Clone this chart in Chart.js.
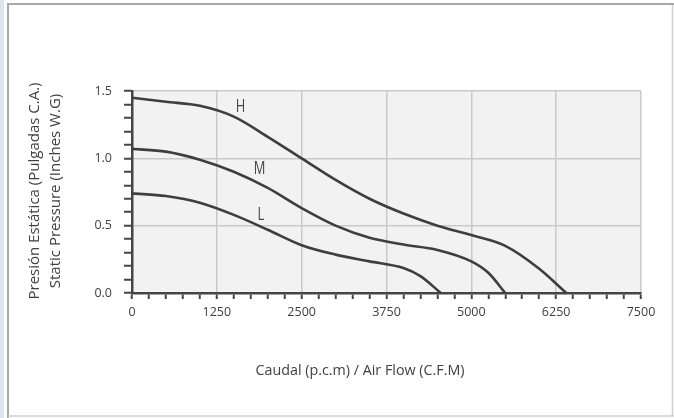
<!DOCTYPE html>
<html>
<head>
<meta charset="utf-8">
<style>
  html, body { margin: 0; padding: 0; background: #fff; }
  #wrap { width: 674px; height: 418px; }
</style>
<script src="https://cdn.jsdelivr.net/npm/chart.js@4.4.0/dist/chart.umd.min.js"></script>
</head>
<body>
<div id="wrap"><canvas id="fanChart" width="674" height="418"></canvas></div>
<script>
// ===========================
// Data
// ===========================
const speedNames = ['H', 'M', 'L'];

const flowH = [0, 500, 1000, 1500, 2000, 2500, 3000, 3500, 4000, 4500, 5000, 5500, 6000, 6400];
const pressH = [1.45, 1.42, 1.39, 1.31, 1.16, 1.00, 0.84, 0.70, 0.59, 0.50, 0.43, 0.35, 0.18, 0];

const flowM = [0, 500, 1000, 1500, 2000, 2500, 3000, 3500, 4000, 4500, 5000, 5250, 5500];
const pressM = [1.07, 1.05, 0.99, 0.90, 0.78, 0.63, 0.50, 0.41, 0.36, 0.32, 0.235, 0.15, 0];

const flowL = [0, 500, 1000, 1500, 2000, 2500, 3000, 3500, 4000, 4250, 4550];
const pressL = [0.74, 0.72, 0.67, 0.58, 0.47, 0.355, 0.285, 0.235, 0.185, 0.125, 0];

// where the H / M / L tags sit, in data units
const tagFlow = [1600, 1880, 1900];
const tagPress = [1.38, 0.92, 0.58];

const xTickLabels = ['0', '1250', '2500', '3750', '5000', '6250', '7500'];
const yTickLabels = ['0.0', '0.5', '1.0', '1.5'];

const xTitle = 'Caudal (p.c.m) / Air Flow (C.F.M)';
const yTitle = ['Presión Estática (Pulgadas C.A.)', 'Static Pressure (Inches W.G)'];

function toPoints(xs, ys) {
    return xs.map((x, i) => ({ x: x, y: ys[i] }));
}

const curveColor = '#3e3e3e';
const axisColor = '#454545';
const textColor = '#404040';
const font = '"Open Sans", "Noto Sans", sans-serif';

// ===========================
// Plugins: frame, plot background, titles, curve tags
// ===========================
const sheetDecor = {
    id: 'sheetDecor',
    beforeDraw(chart) {
        const { ctx, chartArea: a } = chart;
        ctx.save();
        // page frame
        ctx.fillStyle = '#dde7f0';
        ctx.fillRect(0, 0, 4, chart.height);
        ctx.strokeStyle = '#a8a8a8';
        ctx.lineWidth = 2;
        ctx.beginPath();
        ctx.moveTo(8, chart.height);
        ctx.lineTo(8, 4);
        ctx.lineTo(chart.width, 4);
        ctx.stroke();
        ctx.strokeStyle = '#d0d0d0';
        ctx.lineWidth = 1.5;
        ctx.beginPath();
        ctx.moveTo(8, chart.height - 2);
        ctx.lineTo(chart.width, chart.height - 2);
        ctx.moveTo(chart.width - 1.5, 5);
        ctx.lineTo(chart.width - 1.5, chart.height - 2);
        ctx.stroke();
        // plot background
        ctx.fillStyle = '#f2f2f2';
        ctx.fillRect(a.left, a.top, a.right - a.left, a.bottom - a.top);
        ctx.restore();
    },
    afterDraw(chart) {
        const { ctx, chartArea: a } = chart;
        const xs = chart.scales.x, ys = chart.scales.y;
        ctx.save();
        ctx.fillStyle = textColor;
        ctx.textAlign = 'center';
        ctx.textBaseline = 'middle';

        // axis titles
        ctx.font = '14.3px ' + font;
        ctx.fillText(xTitle, 360, 371);

        ctx.font = '15px ' + font;
        ctx.translate(35, (a.top + a.bottom) / 2 - 1);
        ctx.rotate(-Math.PI / 2);
        ctx.fillText(yTitle[0], 0, 0);
        ctx.fillText(yTitle[1], 0, 21);
        ctx.setTransform(1, 0, 0, 1, 0, 0);

        // curve tags (tall, narrow letters)
        ctx.font = '18px ' + font;
        ctx.fillStyle = '#454545';
        speedNames.forEach((name, i) => {
            ctx.save();
            ctx.translate(xs.getPixelForValue(tagFlow[i]), ys.getPixelForValue(tagPress[i]));
            ctx.scale(0.72, 1);
            ctx.fillText(name, 0, 0);
            ctx.restore();
        });
        ctx.restore();
    }
};

// ===========================
// Chart
// ===========================
const isMajorY = v => Math.round(v * 10) % 5 === 0;
const isMajorX = v => Math.round(v) % 1250 === 0;

const fanCtx = document.getElementById('fanChart').getContext('2d');
const fanChart = new Chart(fanCtx, {
    type: 'line',
    data: {
        datasets: [
            { label: speedNames[0], data: toPoints(flowH, pressH) },
            { label: speedNames[1], data: toPoints(flowM, pressM) },
            { label: speedNames[2], data: toPoints(flowL, pressL) }
        ].map(ds => Object.assign(ds, {
            borderColor: curveColor,
            borderWidth: 2.6,
            pointRadius: 0,
            fill: false,
            cubicInterpolationMode: 'monotone'
        }))
    },
    options: {
        responsive: false,
        animation: false,
        layout: {
            padding: { left: 0, right: 33, top: 91, bottom: 0 }
        },
        plugins: {
            legend: { display: false },
            tooltip: { enabled: false }
        },
        scales: {
            x: {
                type: 'linear',
                min: 0,
                max: 7500,
                afterFit: s => { s.height = 125; },
                ticks: {
                    stepSize: 250,
                    autoSkip: false,
                    maxRotation: 0,
                    padding: 6,
                    color: textColor,
                    font: { size: 12.5, family: font },
                    callback: v => isMajorX(v) ? xTickLabels[Math.round(v / 1250)] : ''
                },
                grid: {
                    color: c => (c.tick && isMajorX(c.tick.value)) ? '#c9c9c9' : 'rgba(0,0,0,0)',
                    lineWidth: 1.5,
                    tickColor: axisColor,
                    tickWidth: 2,
                    tickLength: 6
                },
                border: { color: axisColor, width: 2.5 }
            },
            y: {
                min: 0,
                max: 1.5,
                afterFit: s => { s.width = 132; },
                ticks: {
                    stepSize: 0.1,
                    autoSkip: false,
                    padding: 12,
                    color: textColor,
                    font: { size: 12.5, family: font },
                    callback: v => isMajorY(v) ? yTickLabels[Math.round(v * 2)] : ''
                },
                grid: {
                    color: c => (c.tick && isMajorY(c.tick.value)) ? '#c9c9c9' : 'rgba(0,0,0,0)',
                    lineWidth: 1.5,
                    tickColor: axisColor,
                    tickWidth: 2,
                    tickLength: 8
                },
                border: { color: axisColor, width: 2.5 }
            }
        }
    },
    plugins: [sheetDecor]
});
</script>
</body>
</html>
